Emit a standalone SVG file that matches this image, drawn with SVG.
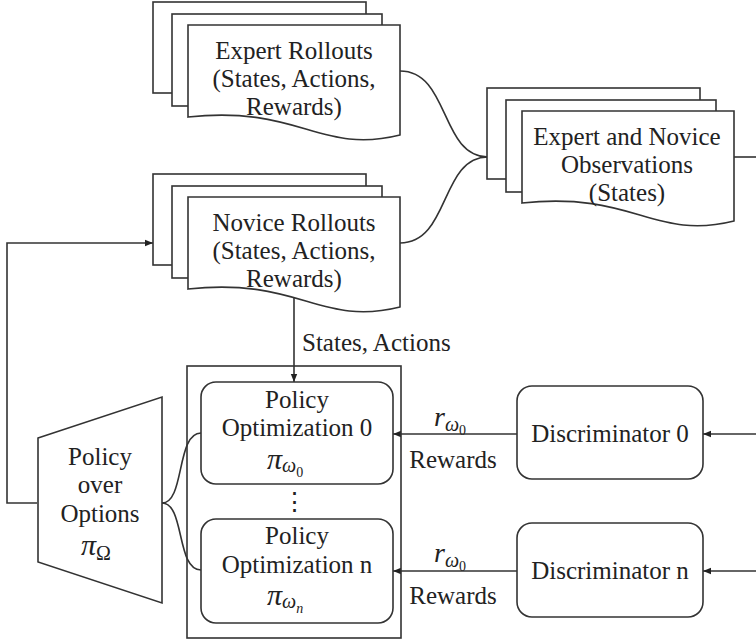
<svg xmlns="http://www.w3.org/2000/svg" xmlns:xlink="http://www.w3.org/1999/xlink" width="756" height="641" viewBox="0 0 756 641">
<style>
.sh{fill:#fff;stroke:#333;stroke-width:1.6}
.ln{fill:none;stroke:#333;stroke-width:1.6}
text{font-family:'Liberation Serif','DejaVu Serif',serif}
.t{font-size:25px;fill:#222;text-anchor:middle}
.tl{font-size:25px;fill:#222}
.m{font-style:italic;fill:#222}
</style>
<defs>
<marker id="ah" viewBox="0 0 10 10" refX="10" refY="5" markerWidth="8" markerHeight="8" markerUnits="userSpaceOnUse" orient="auto">
<path d="M0,1 L10,5 L0,9 Z" fill="#222"/>
</marker>
<g id="stack">
<rect class="sh" x="153" y="2" width="213" height="91"/>
<rect class="sh" x="172" y="14" width="210" height="92"/>
<path class="sh" d="M188,25 H400 V135 C320,155 300,105 188,117 Z"/>
</g>
</defs>
<g id="connectors">
<path class="ln" d="M400,71 C450,71 440,157 488,157"/>
<path class="ln" d="M400,243 C450,243 440,157 488,157"/>
<path class="ln" d="M733,157 H756"/>
<path class="ln" d="M37,503 H7 V243 H153" marker-end="url(#ah)"/>
<path class="ln" d="M294,298 V382" marker-end="url(#ah)"/>
<path class="ln" d="M162,503 C185,503 176,433 201,433"/>
<path class="ln" d="M162,503 C185,503 176,570 201,570"/>
<path class="ln" d="M517,434 H393" marker-end="url(#ah)"/>
<path class="ln" d="M517,571 H393" marker-end="url(#ah)"/>
<path class="ln" d="M756,434 H703" marker-end="url(#ah)"/>
<path class="ln" d="M756,571 H703" marker-end="url(#ah)"/>
<text class="tl" x="302" y="351">States, Actions</text>
<text class="m" x="434" y="426" font-size="28">r<tspan font-size="20" dy="5">ω</tspan><tspan font-size="14" font-style="normal" dy="4">0</tspan></text>
<text class="t" x="453" y="468">Rewards</text>
<text class="m" x="434" y="562" font-size="28">r<tspan font-size="20" dy="5">ω</tspan><tspan font-size="14" font-style="normal" dy="4">0</tspan></text>
<text class="t" x="453" y="604">Rewards</text>
</g>

<g id="expert-rollouts">
<use xlink:href="#stack"/>
<text class="t" x="294" y="59">Expert Rollouts</text>
<text class="t" x="294" y="87">(States, Actions,</text>
<text class="t" x="294" y="115">Rewards)</text>
</g>

<g id="novice-rollouts">
<use xlink:href="#stack" transform="translate(0,172)"/>
<text class="t" x="294" y="231">Novice Rollouts</text>
<text class="t" x="294" y="259">(States, Actions,</text>
<text class="t" x="294" y="287">Rewards)</text>
</g>

<g id="observations">
<use xlink:href="#stack" transform="translate(334,86)"/>
<text class="t" x="627" y="145">Expert and Novice</text>
<text class="t" x="627" y="173">Observations</text>
<text class="t" x="627" y="201">(States)</text>
</g>

<g id="policy-over-options">
<path class="sh" d="M38,438 L162,397 V603 L38,562 Z"/>
<text class="t" x="100" y="465">Policy</text>
<text class="t" x="100" y="493">over</text>
<text class="t" x="100" y="522">Options</text>
<text class="m" x="81" y="555" font-size="30">π<tspan font-size="20" font-style="normal" dy="5">Ω</tspan></text>
</g>

<g id="policy-container">
<rect class="ln" x="187" y="366" width="214" height="272"/>
<text class="t" x="294" y="510" font-size="20">⋮</text>
</g>

<g id="policy-opt-0">
<rect class="sh" x="201" y="382" width="192" height="102" rx="15"/>
<text class="t" x="297" y="408">Policy</text>
<text class="t" x="297" y="436">Optimization 0</text>
<text class="m" x="267" y="469" font-size="30">π<tspan font-size="20" dy="3">ω</tspan><tspan font-size="14" font-style="normal" dy="5">0</tspan></text>
</g>

<g id="policy-opt-n">
<rect class="sh" x="201" y="519" width="192" height="104" rx="15"/>
<text class="t" x="297" y="544">Policy</text>
<text class="t" x="297" y="573">Optimization n</text>
<text class="m" x="267" y="605" font-size="30">π<tspan font-size="20" dy="3">ω</tspan><tspan font-size="14" dy="5">n</tspan></text>
</g>

<g id="discriminator-0">
<rect class="sh" x="517" y="386" width="186" height="93" rx="15"/>
<text class="t" x="610" y="442">Discriminator 0</text>
</g>

<g id="discriminator-n">
<rect class="sh" x="517" y="523" width="186" height="94" rx="15"/>
<text class="t" x="610" y="579">Discriminator n</text>
</g>
</svg>
